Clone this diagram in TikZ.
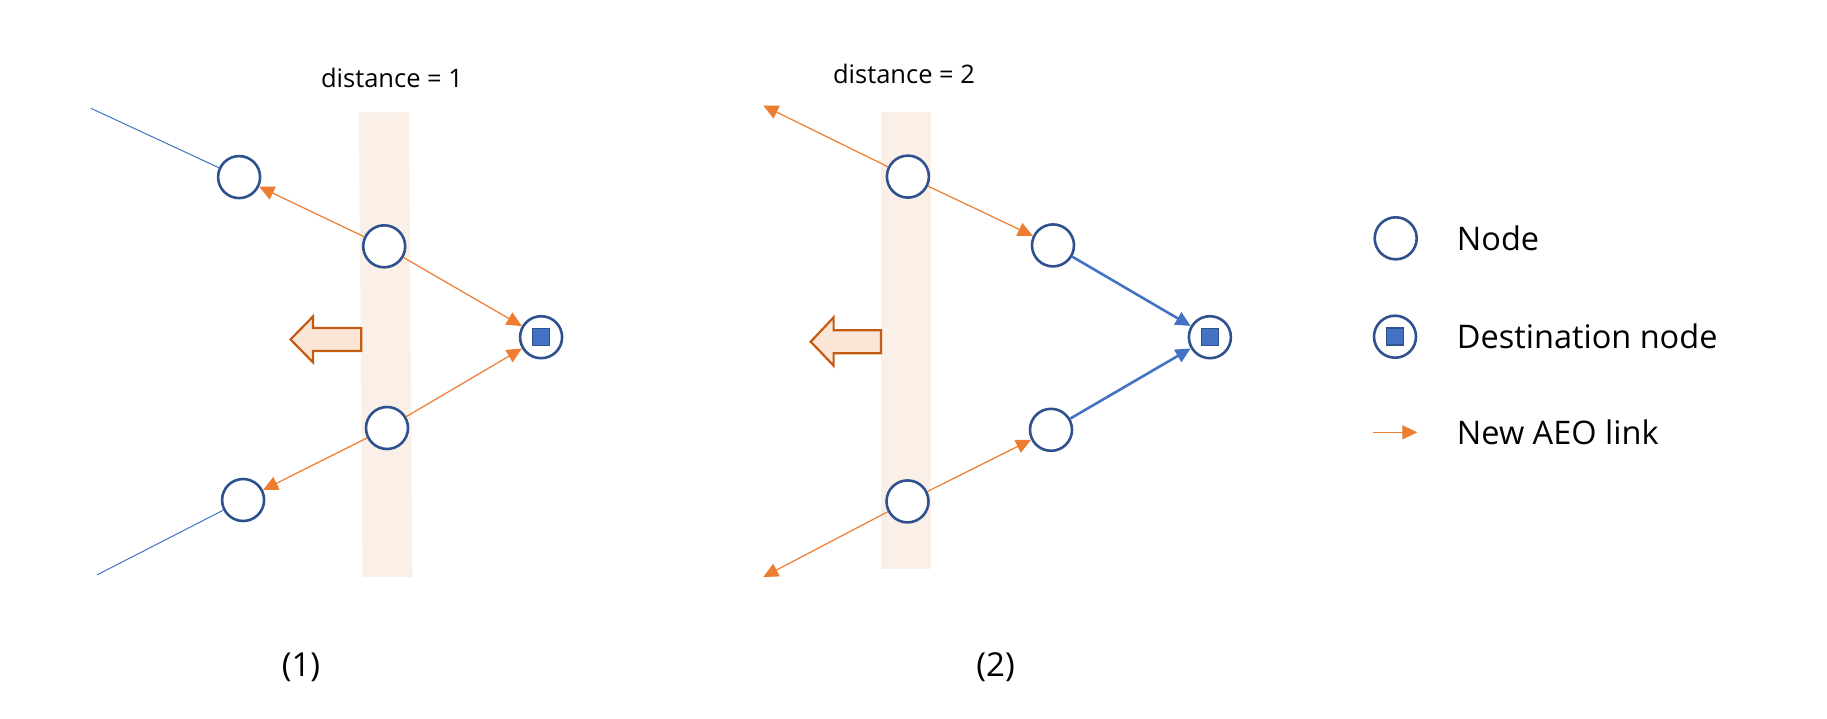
\documentclass[tikz,border=0pt]{standalone}
\usepackage{fontspec}
\setmainfont{Open Sans}
\usetikzlibrary{arrows.meta}
\definecolor{nodeblue}{HTML}{2F528F}
\definecolor{linkblue}{HTML}{4472C4}
\definecolor{aeo}{HTML}{ED7D31}
\definecolor{bandcol}{HTML}{FBF0E8}
\definecolor{bigfill}{HTML}{FBE5D6}
\definecolor{bigdraw}{HTML}{C55A11}
\begin{document}
\begin{tikzpicture}[x=1pt,y=-1pt,
  netnode/.style={circle,draw=nodeblue,line width=2.6pt,fill=white,minimum size=42pt,inner sep=0pt},
  destsq/.style={rectangle,draw=nodeblue,line width=1.5pt,fill=linkblue,minimum size=17pt,inner sep=0pt},
  aeolink/.style={draw=aeo,line width=1.2pt,-{Triangle[length=15pt,width=14pt]}},
  oldlink/.style={draw=linkblue,line width=1pt},
  pathlink/.style={draw=linkblue,line width=2.6pt,-{Triangle[length=15pt,width=14pt]}},
  bandbox/.style={fill=bandcol,draw=none},
  bigarrow/.style={fill=bigfill,draw=bigdraw,line width=2.2pt,line join=miter},
  distlabel/.style={font=\fontsize{25.5}{30}\selectfont,inner sep=0pt},
  panellabel/.style={font=\fontsize{33}{38}\selectfont,inner sep=0pt},
  legendtext/.style={font=\fontsize{32.5}{38}\selectfont,inner sep=0pt,anchor=west}
]
\useasboundingbox[fill=white] (0,0) rectangle (1827,718);

% ---------- Panel 1 ----------
\fill[bandbox] (358.9,112.4) -- (409.1,112.4) -- (412.3,577) -- (362.5,577) -- cycle;
\draw[bigarrow] (361.3,328) -- (313,328) -- (313,316.5) -- (290.5,339.4) -- (313,362.4) -- (313,351) -- (361.3,351) -- cycle;
\node[distlabel] (d1) at (392,78) {distance = 1};
\node[panellabel] (p1) at (301,667) {(1)};

\coordinate (t1) at (90.9,108.3);
\coordinate (b1) at (97.2,574.8);
\node[netnode] (A1) at (239.1,177.1) {};
\node[netnode] (B1) at (384.2,246.3) {};
\node[netnode] (D1) at (541.1,337.2) {};
\node[destsq] at (D1) {};
\node[netnode] (C1) at (387,428) {};
\node[netnode] (E1) at (243.1,500) {};

\draw[oldlink] (t1) -- (A1);
\draw[oldlink] (E1) -- (b1);
\draw[aeolink] (B1) -- (A1);
\draw[aeolink] (B1) -- (D1);
\draw[aeolink] (C1) -- (D1);
\draw[aeolink] (C1) -- (E1);

% ---------- Panel 2 ----------
\fill[bandbox] (881,112.4) rectangle (930.8,568.8);
\draw[bigarrow] (881,330.3) -- (833.6,330.3) -- (833.6,317.4) -- (810.7,341.7) -- (833.6,365.6) -- (833.6,353.2) -- (881,353.2) -- cycle;
\node[distlabel] (d2) at (904,74.3) {distance = 2};
\node[panellabel] (p2) at (995.6,667) {(2)};

\coordinate (t2) at (763.2,105.5);
\coordinate (b2) at (763.2,577);
\node[netnode] (B2) at (907.9,176.6) {};
\node[netnode] (F2) at (1053,245.4) {};
\node[netnode] (D2) at (1209.9,337.2) {};
\node[destsq] at (D2) {};
\node[netnode] (G2) at (1051,429.8) {};
\node[netnode] (C2) at (907.5,501.4) {};

\draw[aeolink] (B2) -- (t2);
\draw[aeolink] (B2) -- (F2);
\draw[aeolink] (C2) -- (G2);
\draw[aeolink] (C2) -- (b2);
\draw[pathlink] (F2) -- (D2);
\draw[pathlink] (G2) -- (D2);

% ---------- Legend ----------
\node[netnode] (L1) at (1395.7,238.3) {};
\node[netnode] (L2) at (1395,336.7) {};
\node[destsq] at (L2) {};
\coordinate (L3a) at (1372.7,432.3);
\coordinate (L3b) at (1417.3,432.3);
\draw[aeolink] (L3a) -- (L3b);
\node[legendtext] (T1) at (1456.7,238.3) {Node};
\node[legendtext] (T2) at (1456.7,336.7) {Destination node};
\node[legendtext] (T3) at (1456.7,432.3) {New AEO link};
\end{tikzpicture}
\end{document}
